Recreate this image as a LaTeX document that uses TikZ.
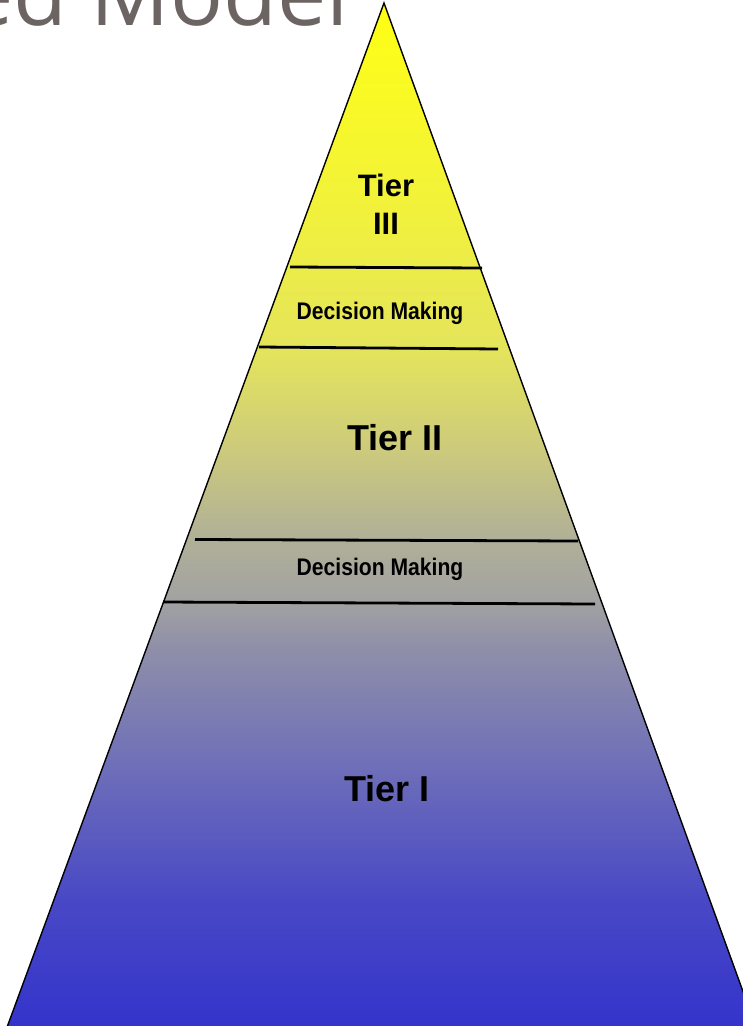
\documentclass[tikz,border=0pt]{standalone}
\usepackage{fontspec}
\setmainfont{Liberation Sans}
\newfontfamily\headingfont{Open Sans}
\newfontfamily\narrowfont[FakeStretch=0.88]{Liberation Sans}
\usetikzlibrary{positioning}
\definecolor{headgray}{HTML}{6B6462}
\definecolor{tieryellow}{HTML}{FFFF14}
\definecolor{tieryellowb}{HTML}{F2F23A}
\definecolor{tierlime}{HTML}{E4E45C}
\definecolor{tierolive}{HTML}{CCCA7C}
\definecolor{tierkhaki}{HTML}{B0B098}
\definecolor{tiergray}{HTML}{A2A2A2}
\definecolor{tiermauve}{HTML}{8E8EAA}
\definecolor{tierlav}{HTML}{7070B8}
\definecolor{tierblueb}{HTML}{4848C6}
\definecolor{tierblue}{HTML}{3333CC}
\pgfdeclareverticalshading{tierfade}{100bp}{color(0bp)=(tierblue); color(25bp)=(tierblue);
  color(31.3bp)=(tierblueb); color(38.1bp)=(tierlav); color(43.5bp)=(tiermauve);
  color(45.9bp)=(tiergray); color(48.9bp)=(tierkhaki); color(53.2bp)=(tierolive);
  color(58.1bp)=(tierlime); color(65.4bp)=(tieryellowb); color(75bp)=(tieryellow);
  color(100bp)=(tieryellow)}
\tikzset{%
  every tier/.style={
    font=\bfseries\fontsize{36}{40}\selectfont,
    inner sep=0pt
  },
  every decision/.style={
    font=\narrowfont\bfseries\fontsize{24}{28}\selectfont,
    inner sep=0pt
  },
  divider/.style={
    line width=2.8pt
  }
}

\begin{document}
\begin{tikzpicture}[x=1pt,y=-1pt]
		\useasboundingbox (0,0) rectangle (743,1026);
		\clip (0,0) rectangle (743,1026);
		%% heading
		\node[anchor=base east, inner sep=0pt, text=headgray, font=\headingfont\fontsize{88}{96}\selectfont] (heading) at (349,25) {ed Model};
		%% pyramid
		\coordinate (apex) at (384,3);
		\coordinate (baseleft) at (6,1030);
		\coordinate (baseright) at (757,1030);
		\draw[line width=1.4pt, shading=tierfade] (apex) -- (baseleft) -- (baseright) -- cycle;
		%% dividers
		\coordinate (d1l) at (290,267);
		\coordinate (d1r) at (482,268);
		\coordinate (d2l) at (259,347);
		\coordinate (d2r) at (498,349);
		\coordinate (d3l) at (195,539.5);
		\coordinate (d3r) at (578,541);
		\coordinate (d4l) at (163,602);
		\coordinate (d4r) at (595,604);
		\draw[divider] (d1l) -- (d1r);
		\draw[divider] (d2l) -- (d2r);
		\draw[divider] (d3l) -- (d3r);
		\draw[divider] (d4l) -- (d4r);
		%% labels
		\node[every tier, font=\bfseries\fontsize{31}{36}\selectfont] (tier3) at (386,185) {Tier};
		\node[every tier, font=\bfseries\fontsize{31}{36}\selectfont] (tier3num) at (386,223.5) {III};
		\node[every decision] (decide2) at (380,313) {Decision Making};
		\node[every tier] (tier2) at (395,438) {Tier II};
		\node[every decision] (decide1) at (380,569.5) {Decision Making};
		\node[every tier] (tier1) at (387,789) {Tier I};
	\end{tikzpicture}
\end{document}
